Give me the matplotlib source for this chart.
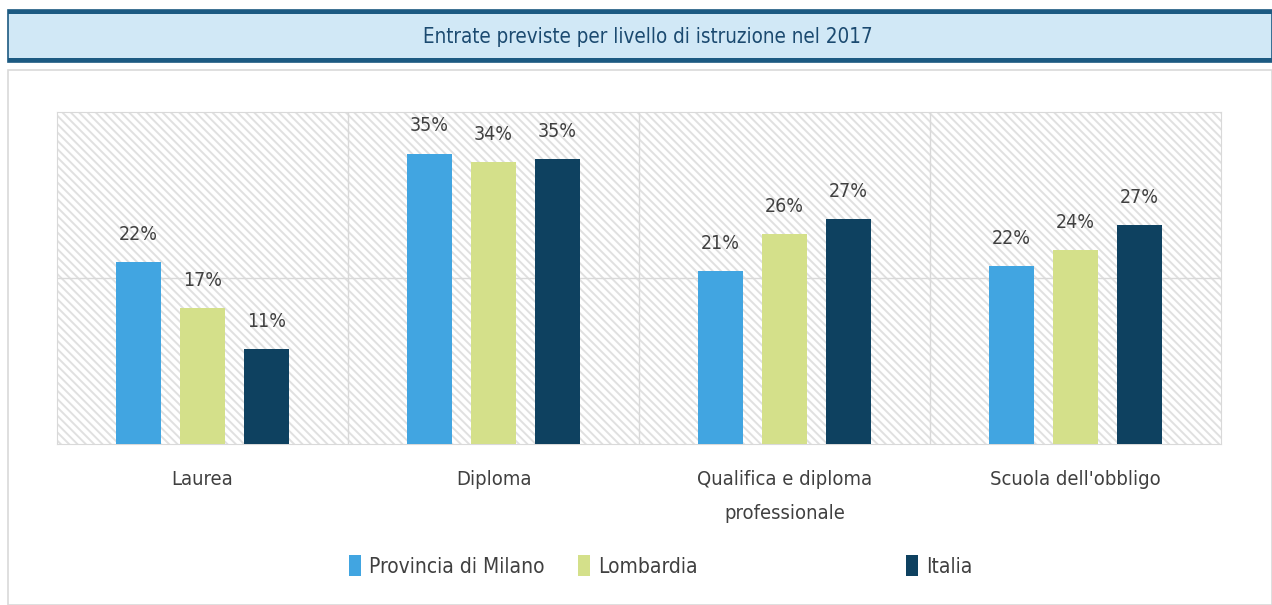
import matplotlib.pyplot as plt
import numpy as np
from matplotlib.patches import Rectangle, Patch

categories = ['Laurea', 'Diploma', 'Qualifica e diploma\nprofessionale', "Scuola dell'obbligo"]
series = ['Provincia di Milano', 'Lombardia', 'Italia']
milano = [21.9, 35.0, 20.8, 21.4]
lombardia = [16.4, 34.0, 25.3, 23.4]
italia = [11.4, 34.3, 27.1, 26.4]
milano_lbl = ['22%', '35%', '21%', '22%']
lombardia_lbl = ['17%', '34%', '26%', '24%']
italia_lbl = ['11%', '35%', '27%', '27%']

colors = ['#41a5e1', '#d4e08a', '#0e4160']
plt.rcParams['font.family'] = ['DejaVu Sans']
plt.rcParams['font.stretch'] = 'condensed'
plt.rcParams['hatch.linewidth'] = 1.4

fig = plt.figure(figsize=(12.72, 6.05), dpi=100)

# title banner
W, H = 1272, 605
def fx(px): return px / W
def fy(py): return 1 - py / H

fig.patches.append(Rectangle((fx(8), fy(62)), fx(1272) - fx(8), fy(10) - fy(62),
                             transform=fig.transFigure, facecolor='#d1e8f6',
                             edgecolor='#1c5a82', linewidth=1.2, zorder=0))
fig.patches.append(Rectangle((fx(8), fy(14)), 1, fy(10) - fy(14), transform=fig.transFigure,
                             facecolor='#1c5a82', edgecolor='none', zorder=1))
fig.patches.append(Rectangle((fx(8), fy(62)), 1, fy(58) - fy(62), transform=fig.transFigure,
                             facecolor='#1c5a82', edgecolor='none', zorder=1))
fig.text(fx(648), fy(37), 'Entrate previste per livello di istruzione nel 2017',
         ha='center', va='center', fontsize=14.8, color='#1b4a70')

# outer panel
fig.patches.append(Rectangle((fx(8), fy(605)), fx(1272) - fx(8), fy(70) - fy(605),
                             transform=fig.transFigure, facecolor='white',
                             edgecolor='#d9d9d9', linewidth=1.2, zorder=0))

ax = fig.add_axes([fx(57), fy(444), fx(1221) - fx(57), fy(112) - fy(444)])
ax.set_zorder(5)
ax.set_xlim(0, 4)
ax.set_ylim(0, 40)
ax.add_patch(Rectangle((0, 0), 4, 40, facecolor='white', edgecolor='#e0e0e0',
                       hatch='\\\\\\\\', linewidth=0, zorder=0))

x = np.arange(len(categories)) + 0.5
w = 0.155
step = 0.22
for i, (vals, lbls) in enumerate(zip([milano, lombardia, italia],
                                     [milano_lbl, lombardia_lbl, italia_lbl])):
    pos = x + (i - 1) * step
    ax.bar(pos, vals, width=w, color=colors[i], zorder=3)
    for p, v, t in zip(pos, vals, lbls):
        ax.text(p, v + 2.2, t, ha='center', va='bottom', fontsize=14, color='#404040')

for xv in [1, 2, 3]:
    ax.axvline(xv, color='#d9d9d9', linewidth=1, zorder=1)
ax.axhline(20, color='#d9d9d9', linewidth=1, zorder=1)
for s in ax.spines.values():
    s.set_color('#d9d9d9')
ax.set_yticks([])
ax.set_xticks(x)
ax.set_xticklabels(categories, fontsize=14.5, color='#404040', linespacing=2.0)
ax.tick_params(axis='x', length=0, pad=19)

# legend
legend_pos = [338, 567, 895]
for name, c, px in zip(series, colors, legend_pos):
    fig.legend(handles=[Patch(facecolor=c, edgecolor='none')], labels=[name],
               loc='center left', bbox_to_anchor=(fx(px) - 0.006, fy(566)),
               frameon=False, fontsize=15, handlelength=0.55, handleheight=1.15,
               handletextpad=0.4, labelcolor='#404040')

fig.savefig('out.png', dpi=100)
